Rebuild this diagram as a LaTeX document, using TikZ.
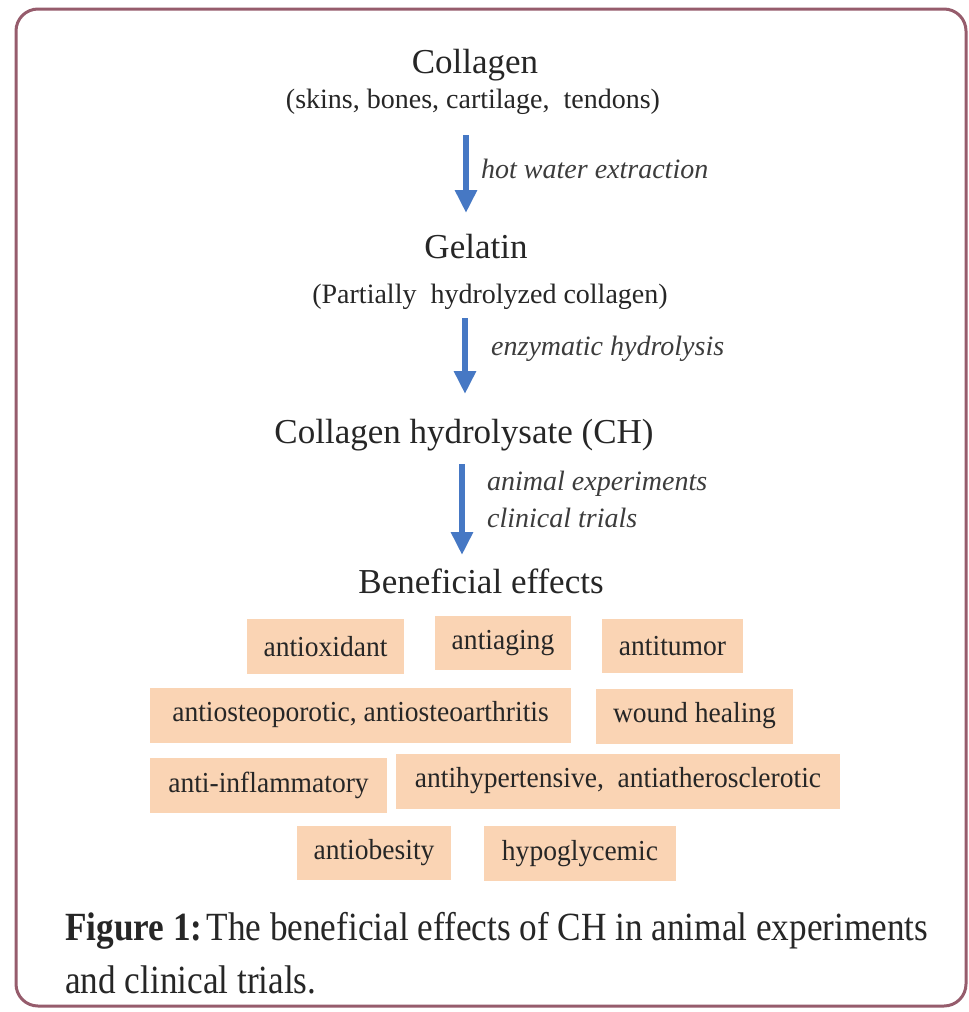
\documentclass[tikz,border=0pt]{standalone}
\usepackage{fontspec}
\setmainfont{Liberation Serif}
\usetikzlibrary{arrows.meta}
\definecolor{frame}{RGB}{150,92,108}
\definecolor{peach}{RGB}{250,212,180}
\definecolor{arrowblue}{RGB}{70,120,196}
\definecolor{ink}{RGB}{38,38,38}
\tikzset{
  heading/.style={anchor=base, text=ink, font=\fontsize{35}{40}\selectfont, inner sep=0},
  subhead/.style={anchor=base, text=ink, font=\fontsize{28}{32}\selectfont, inner sep=0},
  steplabel/.style={anchor=base west, text=ink!90, font=\fontsize{28}{32}\selectfont\itshape, inner sep=0},
  effect/.style={fill=peach, text=ink, font=\fontsize{29}{32}\selectfont, inner sep=0, anchor=center},
  flow/.style={draw=arrowblue, line width=6pt, -{Triangle[width=21pt,length=23pt]}},
  captionline/.style={anchor=base west, text=ink, font=\fontsize{40}{44}\selectfont, inner sep=0}
}
\newcommand{\narrow}[1]{\scalebox{0.88}[1]{#1}}
\newcommand{\slim}[1]{\scalebox{0.95}[1]{#1}}
\begin{document}
\begin{tikzpicture}[x=1pt,y=-1pt]
\useasboundingbox (0,0) rectangle (969,1012);
\fill[white] (0,0) rectangle (969,1012);
\draw[frame, line width=3pt, rounded corners=22pt] (16,9) rectangle (966,1006);

\node[heading] (collagen) at (475,73) {Collagen};
\node[subhead] (sources) at (473,108) {(skins, bones, cartilage,\ \ tendons)};
\node[heading] (gelatin) at (476,258) {Gelatin};
\node[subhead] (partial) at (490,303) {(Partially\ \ hydrolyzed collagen)};
\node[heading] (ch) at (464,443) {Collagen hydrolysate (CH)};
\node[heading] (benefit) at (481,593) {Beneficial effects};

\coordinate (a1s) at (466,135); \coordinate (a1e) at (466,213);
\coordinate (a2s) at (465,318); \coordinate (a2e) at (465,394);
\coordinate (a3s) at (462,464); \coordinate (a3e) at (462,555);
\draw[flow] (a1s) -- (a1e);
\draw[flow] (a2s) -- (a2e);
\draw[flow] (a3s) -- (a3e);

\node[steplabel] (hot) at (481,178) {hot water extraction};
\node[steplabel] (enz) at (491,355) {enzymatic hydrolysis};
\node[steplabel] (animal) at (487,490) {animal experiments};
\node[steplabel] (clinic) at (487,527) {clinical trials};

\node[effect, minimum width=157pt, minimum height=55pt] (e1) at (325.5,646.5) {\slim{antioxidant}};
\node[effect, minimum width=136pt, minimum height=54pt] (e2) at (503,643) {\slim{antiaging}};
\node[effect, minimum width=141pt, minimum height=54pt] (e3) at (672.5,646) {\slim{antitumor}};
\node[effect, minimum width=421pt, minimum height=55pt] (e4) at (360.5,715) {\slim{antiosteoporotic, antiosteoarthritis}};
\node[effect, minimum width=197pt, minimum height=55pt] (e5) at (694.5,716) {\slim{wound healing}};
\node[effect, minimum width=237pt, minimum height=55pt] (e6) at (268.5,785) {\slim{anti-inflammatory}};
\node[effect, minimum width=444pt, minimum height=55pt] (e7) at (618,781) {\slim{antihypertensive,\ \ antiatherosclerotic}};
\node[effect, minimum width=154pt, minimum height=54pt] (e8) at (374,853) {\slim{antiobesity}};
\node[effect, minimum width=192pt, minimum height=55pt] (e9) at (580,853.5) {\slim{hypoglycemic}};

\node[captionline] (cap1) at (65,940) {\narrow{\textbf{Figure 1:}\hspace{0.12em}The beneficial effects of CH in animal experiments}};
\node[captionline] (cap2) at (65,993) {\narrow{and clinical trials.}};
\end{tikzpicture}
\end{document}
